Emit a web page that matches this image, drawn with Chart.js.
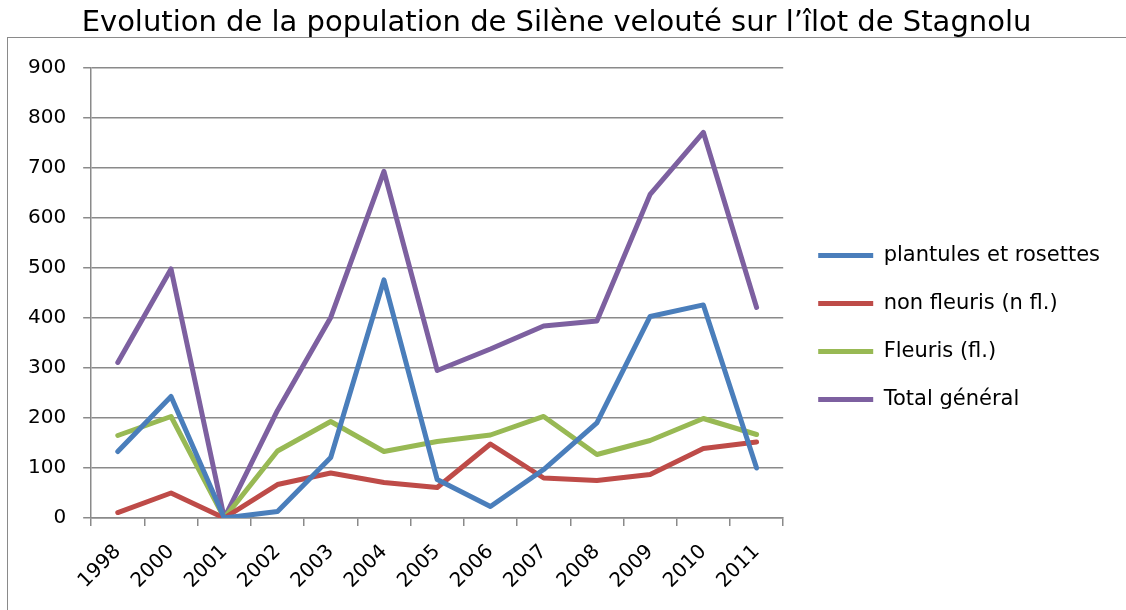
<!DOCTYPE html>
<html>
<head>
<meta charset="utf-8">
<script src="https://cdn.jsdelivr.net/npm/chart.js@4/dist/chart.umd.min.js"></script>
<style>
  html, body { margin: 0; padding: 0; background: #fff; }
  #wrap { position: relative; width: 1126px; height: 610px; }
  #frame { position: absolute; left: 7px; top: 37px; width: 1200px; height: 700px;
           border-left: 1.5px solid #8a8a8a; border-top: 1.5px solid #8a8a8a; }
  canvas { position: absolute; left: 0; top: 0; }
</style>
</head>
<body>
<div id="wrap">
  <div id="frame"></div>
  <canvas id="c" width="1126" height="610"></canvas>
</div>
<script>
const titleText = "Evolution de la population de Silène velouté sur l’îlot de Stagnolu";
const years = ["1998","2000","2001","2002","2003","2004","2005","2006","2007","2008","2009","2010","2011"];
const plantules = [133, 243, 0, 13, 121, 476, 77, 23, 97, 190, 403, 426, 100];
const nonFleuris = [11, 50, 0, 67, 90, 71, 61, 148, 80, 75, 87, 139, 152];
const fleuris = [165, 203, 0, 134, 193, 133, 153, 166, 203, 127, 155, 199, 167];
const total = [311, 498, 0, 215, 401, 693, 295, 338, 384, 394, 647, 771, 421];
const yTicks = [0, 100, 200, 300, 400, 500, 600, 700, 800, 900];

const seriesNames = ["plantules et rosettes", "non fleuris (n fl.)", "Fleuris (fl.)", "Total général"];
const seriesColors = ["#4A7EBB", "#BE4B48", "#98B954", "#7D60A0"];
const seriesData = [plantules, nonFleuris, fleuris, total];

const FONT = "'DejaVu Sans', Verdana, sans-serif";
const gridColor = "#8a8a8a";

const legendShift = {
  id: 'legendShift',
  afterLayout(chart) {
    if (chart.legend) { chart.legend.left += 8; chart.legend.right += 8; }
  }
};

new Chart(document.getElementById('c'), {
  type: 'line',
  data: {
    labels: years,
    datasets: seriesData.map((d, i) => ({
      label: seriesNames[i],
      data: d,
      borderColor: seriesColors[i],
      backgroundColor: seriesColors[i],
      borderWidth: 5,
      pointRadius: 0,
      pointHoverRadius: 0,
      tension: 0,
      borderCapStyle: 'round',
      borderJoinStyle: 'round',
      fill: false
    }))
  },
  plugins: [legendShift],
  options: {
    responsive: false,
    animation: false,
    events: [],
    layout: { padding: { top: 0, left: 11, right: 24, bottom: 3 } },
    plugins: {
      tooltip: { enabled: false },
      title: {
        display: true,
        text: titleText,
        color: '#000',
        font: { family: FONT, size: 29, weight: 'normal', lineHeight: 1.2 },
        padding: { top: 6, bottom: 27 }
      },
      legend: {
        display: true,
        position: 'right',
        align: 'center',
        maxWidth: 420,
        title: { display: true, text: '', font: { size: 10, lineHeight: 1.2 }, padding: { top: 18, bottom: 18 } },
        labels: {
          color: '#000',
          font: { family: FONT, size: 21 },
          boxWidth: 55,
          boxHeight: 5,
          padding: 27,
          useBorderRadius: true,
          borderRadius: 2.5,
          generateLabels: (chart) => chart.data.datasets.map((ds, i) => ({
            text: ds.label,
            fillStyle: ds.borderColor,
            strokeStyle: ds.borderColor,
            lineWidth: 0,
            fontColor: '#000',
            hidden: false,
            datasetIndex: i
          }))
        }
      }
    },
    scales: {
      x: {
        type: 'category',
        offset: true,
        grid: {
          offset: true,
          drawOnChartArea: false,
          drawTicks: true,
          tickLength: 8,
          color: gridColor,
          lineWidth: 1.5
        },
        border: { display: true, color: gridColor, width: 1.5 },
        ticks: {
          color: '#000',
          font: { family: FONT, size: 20 },
          maxRotation: 45,
          minRotation: 45,
          padding: 14,
          autoSkip: false
        }
      },
      y: {
        min: 0,
        max: 900,
        afterBuildTicks: (axis) => { axis.ticks = yTicks.map(v => ({ value: v })); },
        grid: {
          drawTicks: true,
          tickLength: 8,
          color: gridColor,
          lineWidth: 1.5
        },
        border: { display: true, color: gridColor, width: 1.5 },
        ticks: {
          color: '#000',
          font: { family: FONT, size: 20 },
          padding: 17
        }
      }
    }
  }
});
</script>
</body>
</html>
